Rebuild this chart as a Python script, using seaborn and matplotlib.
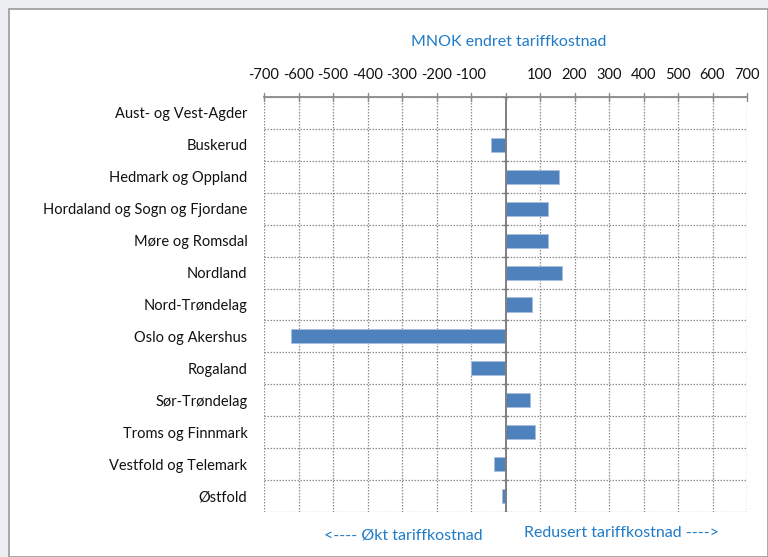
import matplotlib
matplotlib.use("Agg")
import matplotlib.pyplot as plt
import seaborn as sns
import pandas as pd
from matplotlib.patches import Rectangle

regions = ["Aust- og Vest-Agder", "Buskerud", "Hedmark og Oppland",
           "Hordaland og Sogn og Fjordane", "Møre og Romsdal", "Nordland",
           "Nord-Trøndelag", "Oslo og Akershus", "Rogaland", "Sør-Trøndelag",
           "Troms og Finnmark", "Vestfold og Telemark", "Østfold"]
values = [2, -42, 155, 123, 123, 164, 78, -622, -100, 71, 86, -33, -10]
xticks = [-700, -600, -500, -400, -300, -200, -100, 0, 100, 200, 300, 400, 500, 600, 700]
xticklabels = ["-700", "-600", "-500", "-400", "-300", "-200", "-100", "",
               "100", "200", "300", "400", "500", "600", "700"]

df = pd.DataFrame({"region": regions, "value": values})

sns.set_theme(style="white")
plt.rcParams["font.family"] = ["Lato", "DejaVu Sans"]

fig = plt.figure(figsize=(7.68, 5.57), dpi=100)
fig.patch.set_facecolor("#eceef1")
W, H = 768, 557
fig.add_artist(Rectangle((9 / W, 0), 1 - 9 / W, 1 - 9 / H, transform=fig.transFigure,
                         facecolor="white", edgecolor="#9a9a9a", linewidth=1.2, zorder=0))

ax = fig.add_axes([264 / W, 1 - 512 / H, (747 - 264) / W, (512 - 97) / H])
ax.set_facecolor("white")
sns.barplot(data=df, x="value", y="region", orient="h", color="#4f81bd",
            saturation=1, edgecolor="#a7c0e0", linewidth=0.6, width=0.44, ax=ax, zorder=3)

ax.set_xlim(-700, 700)
ax.set_ylim(len(regions) - 0.5, -0.5)
ax.xaxis.tick_top()
ax.set_xticks(xticks)
ax.set_xticklabels(xticklabels, fontsize=10.5, color="#111111")
ax.tick_params(axis="x", which="major", length=0, pad=11, top=True, bottom=False)
ax.tick_params(axis="y", length=0, pad=12, labelsize=10.5, labelcolor="#111111")
ax.set_xlabel("")
ax.set_ylabel("")

# grid
for xv in xticks:
    if xv != 0:
        ax.axvline(xv, color="#8f8f8f", linestyle=(0, (1.2, 1.2)), linewidth=0.9, zorder=1)
for i in range(len(regions) + 1):
    ax.axhline(i - 0.5, color="#8f8f8f", linestyle=(0, (1.2, 1.2)), linewidth=0.9, zorder=1)
ax.axvline(0, color="#7f7f7f", linewidth=1.4, zorder=4)
# short tick marks crossing top axis line
for xv in xticks:
    ax.plot([xv, xv], [-0.5 - 0.12, -0.5 + 0.12], color="#8a8a8a", lw=1.0,
            clip_on=False, zorder=5)
for i in range(len(regions) + 1):
    ax.plot([-8, 8], [i - 0.5, i - 0.5], color="#7f7f7f", lw=1.0, zorder=5)

for side in ["left", "right", "bottom"]:
    ax.spines[side].set_visible(False)
ax.spines["top"].set_color("#8a8a8a")
ax.spines["top"].set_linewidth(1.3)

blue = "#1f7bc7"
fig.text(509 / W, 1 - 42 / H, "MNOK endret tariffkostnad", ha="center", va="center",
         fontsize=11.5, color=blue)
fig.text(403 / W, 1 - 536 / H, "<---- Økt tariffkostnad", ha="center", va="center",
         fontsize=11.5, color=blue)
fig.text(622 / W, 1 - 533 / H, "Redusert tariffkostnad ---->", ha="center", va="center",
         fontsize=11.5, color=blue)

fig.savefig("out.png", dpi=100, facecolor=fig.get_facecolor())
